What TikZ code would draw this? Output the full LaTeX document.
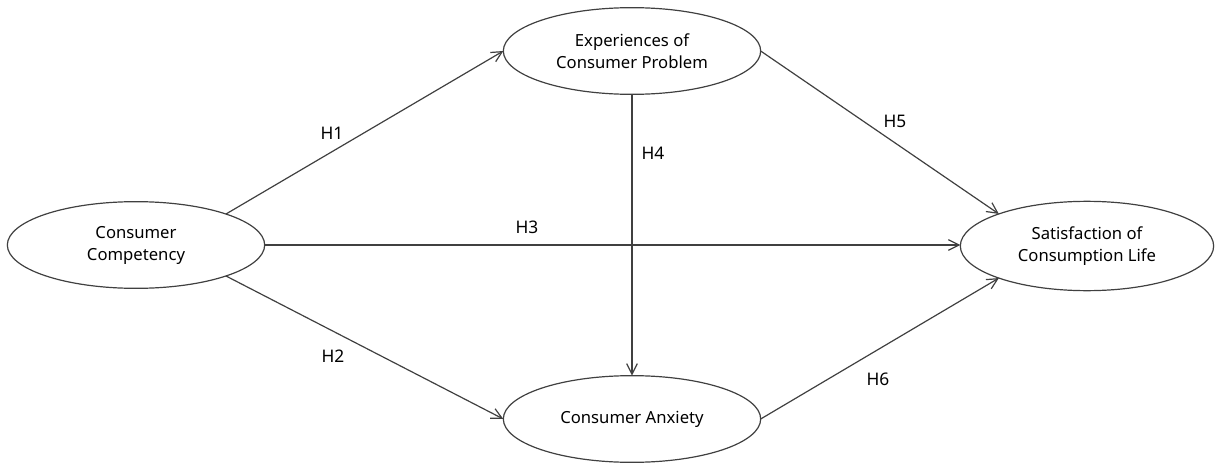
\documentclass[tikz,border=0pt]{standalone}
\usepackage{fontspec}
\setmainfont{Noto Sans}
\usepackage{xcolor}
\usepackage{tikz}
\usetikzlibrary{shapes.geometric, arrows.meta, positioning}

\definecolor{linegray}{HTML}{404040}

\begin{document}
\begin{tikzpicture}[
    x=0.75pt, y=-0.75pt,
    latent/.style={draw=linegray, line width=0.9pt, ellipse, minimum width=193pt, minimum height=65pt, align=center, inner sep=0pt, outer sep=0pt, font=\fontsize{12.5}{16.5}\selectfont},
    path/.style={draw=linegray, line width=0.9pt, -{Straight Barb[length=8pt, width=8pt]}},
    hyp/.style={font=\fontsize{13}{15}\selectfont}
]
    \useasboundingbox (0,0) rectangle (1215,464);
    % constructs of the model
    \node[latent] at (136,245) (cc) {Consumer\\Competency};
    \node[latent] at (632,51) (ecp) {Experiences of\\Consumer Problem};
    \node[latent] at (632,419) (ca) {Consumer Anxiety};
    \node[latent, minimum width=190pt, minimum height=67pt] at (1087,246) (scl) {Satisfaction of\\Consumption Life};
    \draw[path] (cc.19) -- (ecp.west);
    \draw[path] (cc.341) -- (ca.west);
    \draw[path] (cc.east) -- (cc.east -| scl.west);
    \draw[path] (ecp.south) -- (ca.north);
    \draw[path] (ecp.east) -- (scl.160);
    \draw[path] (ca.east) -- (scl.200);
    \node[hyp] at (332,133) (h1) {H1};
    \node[hyp] at (333,356) (h2) {H2};
    \node[hyp] at (527,227) (h3) {H3};
    \node[hyp] at (653,153) (h4) {H4};
    \node[hyp] at (895,121) (h5) {H5};
    \node[hyp] at (878,379) (h6) {H6};
\end{tikzpicture}
\end{document}
